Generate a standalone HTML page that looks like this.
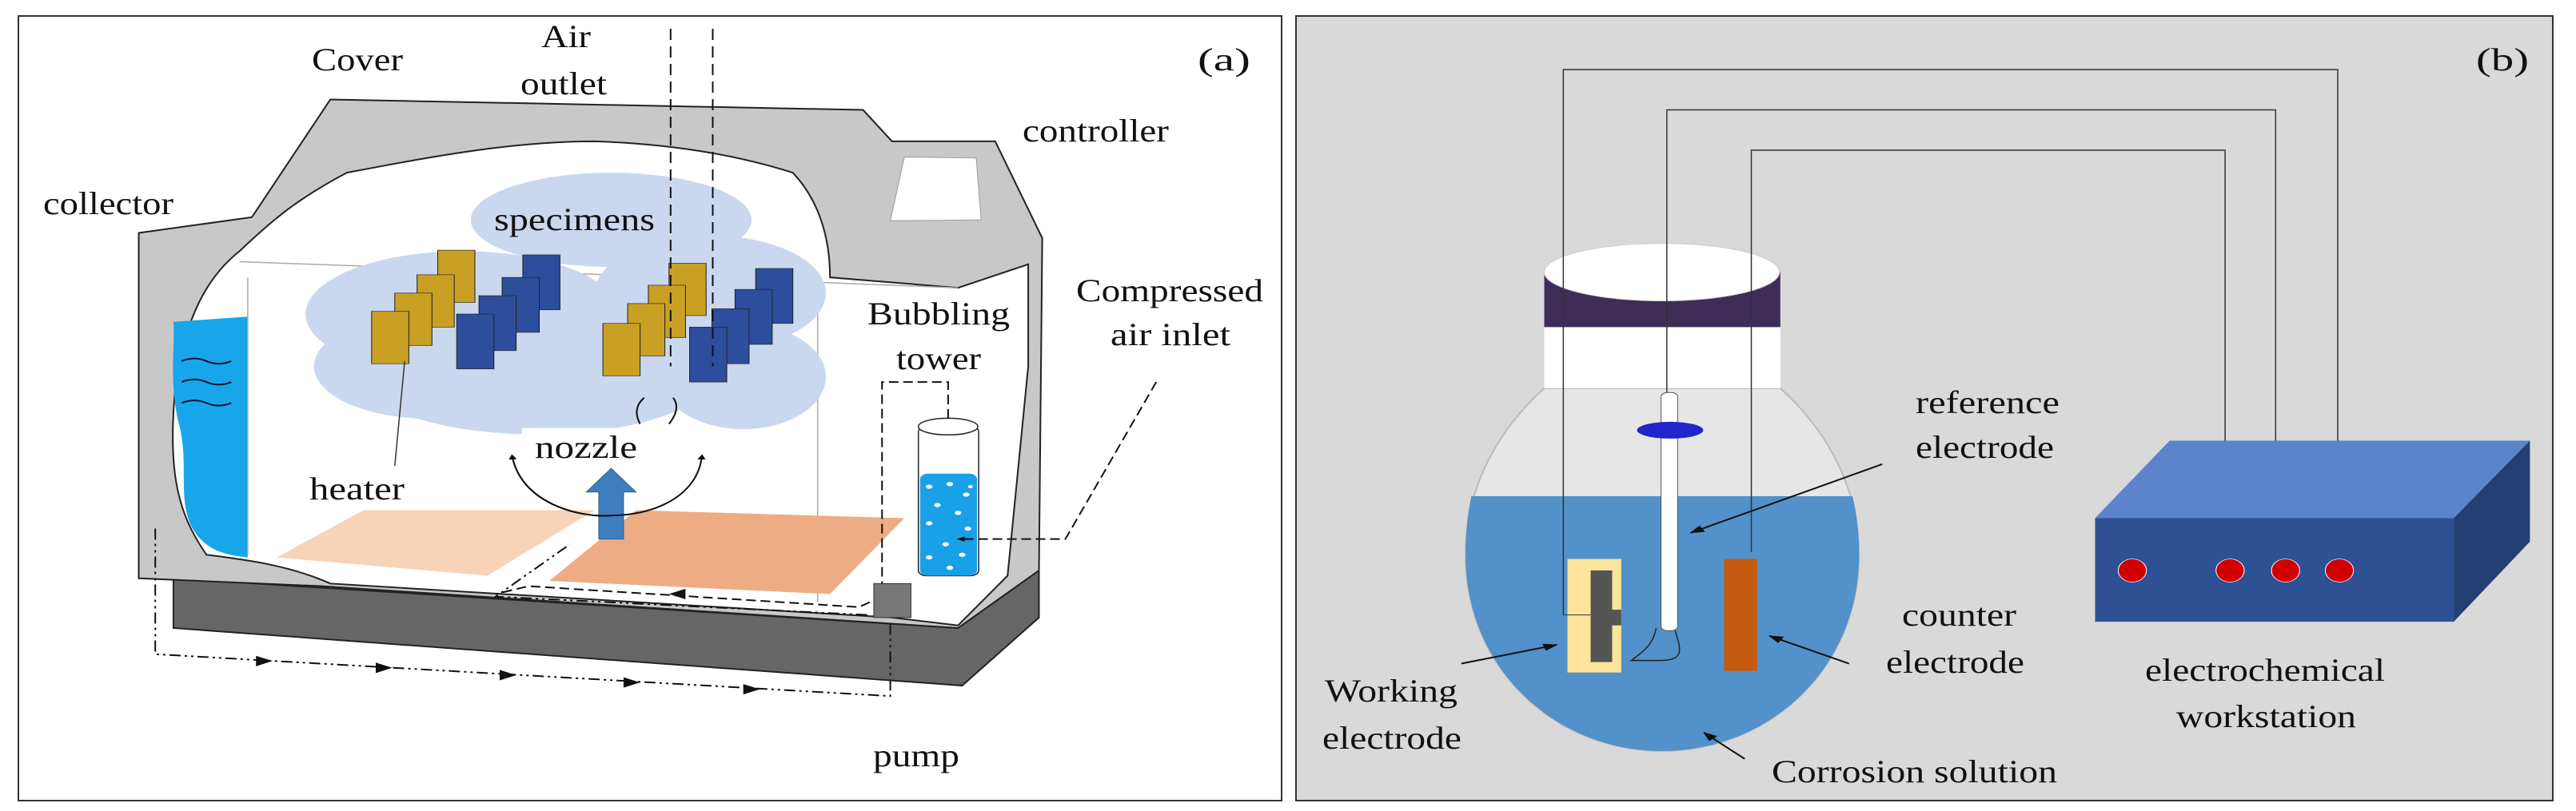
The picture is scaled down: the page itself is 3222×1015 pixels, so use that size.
<!DOCTYPE html>
<html><head><meta charset="utf-8"><style>
html,body{margin:0;padding:0;background:#fff;}
svg{display:block;}
svg text{font-family:"Liberation Serif","Times New Roman",Times,serif;font-size:40px;fill:#111;}
</style></head><body>
<svg width="3222" height="1015" viewBox="0 0 3222 1015" xmlns="http://www.w3.org/2000/svg" font-family="Liberation Serif, Times New Roman, serif">
<defs>
<marker id="ah" markerWidth="10" markerHeight="10" refX="8" refY="5" orient="auto" markerUnits="userSpaceOnUse"><path d="M0,0 L10,5 L0,10 z" fill="#111"/></marker>
<marker id="ah2" markerWidth="18" markerHeight="14" refX="16" refY="7" orient="auto" markerUnits="userSpaceOnUse"><path d="M0,0 L18,7 L0,14 z" fill="#111"/></marker>
</defs>
<rect x="0" y="0" width="3222" height="1015" fill="#fff"/>
<!-- Panel a -->
<rect x="23" y="20" width="1580" height="982" fill="#fff" stroke="#333" stroke-width="2"/>
<g transform="scale(1.033,0.655)">
 <polygon points="210,1105 1160,1200 1258,1090 1258,1180 1165,1310 210,1200" fill="#666" stroke="#222" stroke-width="2" vector-effect="non-scaling-stroke"/>
 <polygon points="168,445 305,415 400,190 1045,210 1080,270 1205,270 1262,455 1258,1090 1160,1200 390,1120 168,1105" fill="#c8c8c8" stroke="#222" stroke-width="2" vector-effect="non-scaling-stroke"/>
 <path d="M290,480 C330,420 360,380 420,330 C520,300 620,270 720,270 C820,275 900,300 960,330 C990,380 1005,450 1005,530 L1160,550 L1245,505 L1245,700 L1220,1100 L1160,1195 L1080,1180 L400,1115 C350,1080 300,1070 250,1060 C215,980 200,900 215,700 C230,600 250,530 290,480 Z" fill="#fff" stroke="#222" stroke-width="2" vector-effect="non-scaling-stroke"/>
 <path d="M210,615 L300,605 L300,1065 C270,1060 245,1050 230,1000 C215,940 230,880 215,800 C205,720 212,660 210,615 Z" fill="#18a6ea"/>
 <path d="M220,690 q15,-10 30,0 t30,0 M220,730 q15,-10 30,0 t30,0 M220,770 q15,-10 30,0 t30,0" fill="none" stroke="#113" stroke-width="2" vector-effect="non-scaling-stroke"/>
 <polygon points="1095,300 1182,302 1188,420 1078,422" fill="#fff" stroke="#999" vector-effect="non-scaling-stroke"/>
 <path d="M290,500 L1000,540 M300,530 L300,1060 M990,540 L990,1150 M1000,540 L1160,550" stroke="#aaa" stroke-width="1.5" fill="none" vector-effect="non-scaling-stroke"/>
 <g fill="#c9d8ee">
  <ellipse cx="740" cy="420" rx="170" ry="90"/>
  <ellipse cx="560" cy="600" rx="190" ry="120"/>
  <ellipse cx="860" cy="560" rx="140" ry="110"/>
  <ellipse cx="650" cy="720" rx="210" ry="110"/>
  <ellipse cx="900" cy="720" rx="100" ry="100"/>
  <ellipse cx="520" cy="700" rx="140" ry="100"/>
 </g>
 <polygon points="335,1065 440,975 720,975 590,1100" fill="#f7d3b8"/>
 <polygon points="665,1110 770,975 1095,990 1005,1135" fill="#eeac84"/>
 <g stroke="#222" stroke-width="1" vector-effect="non-scaling-stroke">
  <rect x="530" y="478" width="45" height="100" fill="#c9a024"/>
  <rect x="505" y="525" width="45" height="100" fill="#c9a024"/>
  <rect x="478" y="560" width="45" height="100" fill="#c9a024"/>
  <rect x="450" y="595" width="45" height="100" fill="#c9a024"/>
  <rect x="633" y="487" width="45" height="105" fill="#2d4e9c"/>
  <rect x="608" y="530" width="45" height="105" fill="#2d4e9c"/>
  <rect x="580" y="565" width="45" height="105" fill="#2d4e9c"/>
  <rect x="553" y="600" width="45" height="105" fill="#2d4e9c"/>
  <rect x="810" y="503" width="45" height="100" fill="#c9a024"/>
  <rect x="785" y="545" width="45" height="100" fill="#c9a024"/>
  <rect x="760" y="580" width="45" height="100" fill="#c9a024"/>
  <rect x="730" y="618" width="45" height="100" fill="#c9a024"/>
  <rect x="915" y="513" width="45" height="105" fill="#2d4e9c"/>
  <rect x="890" y="553" width="45" height="105" fill="#2d4e9c"/>
  <rect x="862" y="590" width="45" height="105" fill="#2d4e9c"/>
  <rect x="835" y="625" width="45" height="105" fill="#2d4e9c"/>
 </g>
 <line x1="490" y1="690" x2="478" y2="890" stroke="#333" stroke-width="1.5" vector-effect="non-scaling-stroke"/>
 <path d="M812,55 L812,700 M863,55 L863,700" stroke="#111" stroke-width="2" stroke-dasharray="14,8" fill="none" vector-effect="non-scaling-stroke"/>
 <rect x="632" y="818" width="160" height="60" fill="#fff"/>
 <polygon points="725,1030 755,1030 755,940 770,940 740,895 710,940 725,940" fill="#3f7fc0" stroke="#2a5a90" vector-effect="non-scaling-stroke"/>
 <path d="M620,870 C630,960 700,990 740,985 C790,985 845,950 850,870" fill="none" stroke="#111" stroke-width="2" vector-effect="non-scaling-stroke" marker-end="url(#ah)"/>
 <path d="M740,985 C700,990 630,960 620,870" fill="none" stroke="#111" stroke-width="2" vector-effect="non-scaling-stroke" marker-end="url(#ah)"/>
 <path d="M780,760 q-15,20 -5,50 M815,760 q10,20 -5,50" fill="none" stroke="#111" stroke-width="2" vector-effect="non-scaling-stroke"/>
 <rect x="1112" y="815" width="73" height="285" rx="10" fill="#fff" stroke="#222" stroke-width="1.5" vector-effect="non-scaling-stroke"/>
 <rect x="1114" y="905" width="69" height="195" rx="10" fill="#1aa0e6"/>
 <g fill="#fff">
  <circle cx="1125" cy="930" r="4"/><circle cx="1150" cy="925" r="4"/><circle cx="1170" cy="945" r="4"/>
  <circle cx="1135" cy="965" r="4"/><circle cx="1160" cy="980" r="4"/><circle cx="1125" cy="1000" r="4"/>
  <circle cx="1172" cy="1010" r="4"/><circle cx="1145" cy="1040" r="4"/><circle cx="1125" cy="1065" r="4"/>
  <circle cx="1165" cy="1060" r="4"/><circle cx="1150" cy="1085" r="4"/><circle cx="1175" cy="930" r="3"/>
 </g>
 <ellipse cx="1148" cy="815" rx="36" ry="16" fill="#fff" stroke="#222" stroke-width="1.5" vector-effect="non-scaling-stroke"/>
 <path d="M1148,800 L1148,730 L1068,730 L1068,1140 L1040,1160 L640,1120 L600,1135" fill="none" stroke="#111" stroke-width="2" stroke-dasharray="12,6" vector-effect="non-scaling-stroke"/>
 <path d="M1400,730 L1290,1030 L1160,1030" fill="none" stroke="#111" stroke-width="2" stroke-dasharray="12,6" vector-effect="non-scaling-stroke" marker-end="url(#ah)"/>
 <path d="M188,1010 L188,1250 L1078,1330 L1078,1185 M1050,1175 L600,1140 L690,1040" fill="none" stroke="#111" stroke-width="2" stroke-dasharray="14,5,3,5,3,5" vector-effect="non-scaling-stroke"/>
 <rect x="1058" y="1115" width="45" height="65" fill="#777" stroke="#333" vector-effect="non-scaling-stroke"/>
 <g fill="#111"><polygon points="310,1253 330,1263 310,1273"/><polygon points="455,1266 475,1276 455,1286"/><polygon points="605,1280 625,1290 605,1300"/><polygon points="755,1294 775,1304 755,1314"/><polygon points="900,1307 920,1317 900,1327"/><polygon points="830,1125 810,1135 830,1145"/></g>
</g>
<g font-family="Liberation Serif, Times New Roman, serif" font-size="40" fill="#111">
<text x="390" y="88" textLength="114" lengthAdjust="spacingAndGlyphs">Cover</text>
<text x="677" y="59" textLength="62" lengthAdjust="spacingAndGlyphs">Air</text>
<text x="651" y="118" textLength="108" lengthAdjust="spacingAndGlyphs">outlet</text>
<text x="1498" y="88" textLength="66" lengthAdjust="spacingAndGlyphs">(a)</text>
<text x="1279" y="177" textLength="183" lengthAdjust="spacingAndGlyphs">controller</text>
<text x="54" y="268" textLength="163" lengthAdjust="spacingAndGlyphs">collector</text>
<text x="618" y="288" textLength="201" lengthAdjust="spacingAndGlyphs">specimens</text>
<text x="1346" y="377" textLength="234" lengthAdjust="spacingAndGlyphs">Compressed</text>
<text x="1389" y="432" textLength="150" lengthAdjust="spacingAndGlyphs">air inlet</text>
<text x="1085" y="406" textLength="178" lengthAdjust="spacingAndGlyphs">Bubbling</text>
<text x="1121" y="462" textLength="106" lengthAdjust="spacingAndGlyphs">tower</text>
<text x="669" y="573" textLength="128" lengthAdjust="spacingAndGlyphs">nozzle</text>
<text x="387" y="625" textLength="119" lengthAdjust="spacingAndGlyphs">heater</text>
<text x="1092" y="959" textLength="108" lengthAdjust="spacingAndGlyphs">pump</text>
</g>

<!-- Panel b -->
<rect x="1621" y="20" width="1572" height="982" fill="#d9d9d9" stroke="#333" stroke-width="2"/>
<g transform="translate(1600,0) scale(1.036,0.655)">
 <path d="M320,742 L605,742 C660,820 700,930 700,1060 C700,1280 590,1435 462,1435 C335,1435 225,1280 225,1060 C225,930 265,820 320,742 Z" fill="#e6e6e6" stroke="#bbb" stroke-width="2" vector-effect="non-scaling-stroke"/>
 <path d="M232,948 L692,948 C698,985 700,1020 700,1060 C700,1280 590,1435 462,1435 C335,1435 225,1280 225,1060 C225,1020 227,985 232,948 Z" fill="#5291c9"/>
 <rect x="320" y="625" width="285" height="117" fill="#fff"/>
 <rect x="320" y="520" width="285" height="105" fill="#3e2d58"/>
 <ellipse cx="462" cy="520" rx="142" ry="55" fill="#fff" stroke="#ccc" vector-effect="non-scaling-stroke"/>
 <path d="M343,1175 L343,133 L1278,133 L1278,1090 M468,750 L468,210 L1203,210 L1203,1085 M570,1055 L570,287 L1142,287 L1142,1040" fill="none" stroke="#333" stroke-width="1.5" vector-effect="non-scaling-stroke"/>
 <rect x="348" y="1068" width="65" height="217" fill="#fde49b"/>
 <rect x="376" y="1090" width="26" height="175" fill="#555"/>
 <rect x="400" y="1165" width="13" height="30" fill="#555"/>
 <line x1="343" y1="1175" x2="376" y2="1175" stroke="#333" vector-effect="non-scaling-stroke"/>
 <rect x="537" y="1068" width="40" height="214" fill="#c55a11"/>
 <rect x="461" y="750" width="20" height="455" rx="8" fill="#fff" stroke="#555" vector-effect="non-scaling-stroke"/>
 <ellipse cx="472" cy="822" rx="40" ry="16" fill="#2424cc"/>
 <path d="M478,1205 C485,1240 490,1262 460,1262 L425,1262 C440,1245 452,1230 455,1200" fill="none" stroke="#222" stroke-width="1.5" vector-effect="non-scaling-stroke"/>
 <polygon points="985,990 1075,842 1510,842 1418,990" fill="#5b84cc"/>
 <polygon points="1418,990 1510,842 1510,1035 1418,1188" fill="#233f73"/>
 <rect x="985" y="990" width="433" height="198" fill="#2e5196"/>
 <g fill="#d00000" stroke="#fff" stroke-width="1" vector-effect="non-scaling-stroke">
  <ellipse cx="1030" cy="1090" rx="17" ry="22"/><ellipse cx="1148" cy="1090" rx="17" ry="22"/><ellipse cx="1215" cy="1090" rx="17" ry="22"/><ellipse cx="1280" cy="1090" rx="17" ry="22"/>
 </g>
 <g stroke="#111" stroke-width="2" fill="none">
  <line x1="728" y1="887" x2="497" y2="1018" marker-end="url(#ah2)" vector-effect="non-scaling-stroke"/>
  <line x1="688" y1="1268" x2="592" y2="1215" marker-end="url(#ah2)" vector-effect="non-scaling-stroke"/>
  <line x1="220" y1="1268" x2="335" y2="1232" marker-end="url(#ah2)" vector-effect="non-scaling-stroke"/>
  <line x1="562" y1="1450" x2="513" y2="1400" marker-end="url(#ah2)" vector-effect="non-scaling-stroke"/>
 </g>
</g>
<g font-family="Liberation Serif, Times New Roman, serif" font-size="40" fill="#111">
<text x="3097" y="88" textLength="66" lengthAdjust="spacingAndGlyphs">(b)</text>
<text x="2396" y="517" textLength="180" lengthAdjust="spacingAndGlyphs">reference</text>
<text x="2396" y="573" textLength="173" lengthAdjust="spacingAndGlyphs">electrode</text>
<text x="2379" y="783" textLength="143" lengthAdjust="spacingAndGlyphs">counter</text>
<text x="2359" y="842" textLength="173" lengthAdjust="spacingAndGlyphs">electrode</text>
<text x="1657" y="878" textLength="166" lengthAdjust="spacingAndGlyphs">Working</text>
<text x="1654" y="937" textLength="174" lengthAdjust="spacingAndGlyphs">electrode</text>
<text x="2216" y="979" textLength="357" lengthAdjust="spacingAndGlyphs">Corrosion solution</text>
<text x="2683" y="852" textLength="300" lengthAdjust="spacingAndGlyphs">electrochemical</text>
<text x="2722" y="910" textLength="225" lengthAdjust="spacingAndGlyphs">workstation</text>
</g>
</svg>
</body></html>
